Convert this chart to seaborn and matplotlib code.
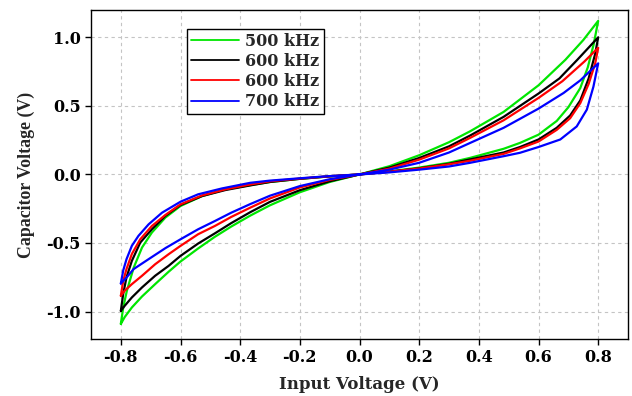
import matplotlib
matplotlib.use("Agg")
import matplotlib.pyplot as plt
import numpy as np
import pandas as pd
import seaborn as sns

# ---- loop data: forward branch (-0.8 -> 0.8) followed by return branch (0.8 -> -0.8) ----
labels = ["500 kHz", "600 kHz", "600 kHz", "700 kHz"]
colors = ["#00e600", "#000000", "#ff0000", "#0000ff"]

green_x = [-0.80, -0.792, -0.78, -0.757, -0.729, -0.696, -0.651, -0.60, -0.528, -0.45, -0.366,
           -0.30, -0.20, -0.10, 0.00, 0.10, 0.20, 0.30, 0.371, 0.483, 0.538, 0.60, 0.661, 0.70,
           0.74, 0.765, 0.785, 0.80,
           0.75, 0.69, 0.60, 0.483, 0.371, 0.30, 0.20, 0.10, 0.00, -0.10, -0.20, -0.30, -0.366,
           -0.43, -0.485, -0.541, -0.60, -0.64, -0.685, -0.729, -0.763, -0.787, -0.80]
green_y = [-1.09, -0.97, -0.85, -0.68, -0.533, -0.424, -0.315, -0.23, -0.158, -0.109, -0.078,
           -0.055, -0.032, -0.014, 0.00, 0.022, 0.05, 0.085, 0.121, 0.187, 0.23, 0.29, 0.39, 0.49,
           0.63, 0.78, 0.95, 1.12,
           0.98, 0.836, 0.65, 0.456, 0.315, 0.235, 0.14, 0.06, 0.00, -0.055, -0.13, -0.225, -0.30,
           -0.38, -0.455, -0.54, -0.635, -0.71, -0.80, -0.89, -0.97, -1.04, -1.09]

black_x = [-0.80, -0.792, -0.781, -0.763, -0.735, -0.696, -0.651, -0.60, -0.528, -0.45, -0.366,
           -0.30, -0.20, -0.10, 0.00, 0.10, 0.20, 0.30, 0.371, 0.483, 0.538, 0.60, 0.661, 0.706,
           0.74, 0.768, 0.79, 0.80,
           0.73, 0.67, 0.60, 0.483, 0.371, 0.30, 0.20, 0.10, 0.00, -0.10, -0.20, -0.30, -0.366,
           -0.43, -0.485, -0.541, -0.60, -0.64, -0.685, -0.729, -0.763, -0.787, -0.80]
black_y = [-0.995, -0.87, -0.75, -0.63, -0.497, -0.40, -0.303, -0.223, -0.158, -0.114, -0.08,
           -0.055, -0.032, -0.014, 0.00, 0.02, 0.045, 0.078, 0.11, 0.16, 0.20, 0.255, 0.34, 0.43,
           0.54, 0.70, 0.88, 1.00,
           0.836, 0.70, 0.59, 0.42, 0.284, 0.205, 0.12, 0.05, 0.00, -0.05, -0.115, -0.20, -0.275,
           -0.355, -0.43, -0.504, -0.594, -0.667, -0.739, -0.824, -0.897, -0.958, -0.995]

red_x = [-0.80, -0.792, -0.781, -0.763, -0.735, -0.696, -0.651, -0.60, -0.528, -0.45, -0.366,
         -0.30, -0.20, -0.10, 0.00, 0.10, 0.20, 0.30, 0.371, 0.483, 0.538, 0.60, 0.661, 0.706,
         0.74, 0.768, 0.79, 0.80,
         0.754, 0.68, 0.60, 0.483, 0.371, 0.30, 0.20, 0.10, 0.00, -0.10, -0.20, -0.30, -0.366,
         -0.43, -0.485, -0.541, -0.60, -0.64, -0.685, -0.729, -0.763, -0.787, -0.80]
red_y = [-0.885, -0.776, -0.69, -0.58, -0.473, -0.376, -0.296, -0.218, -0.153, -0.109, -0.073,
         -0.05, -0.03, -0.013, 0.00, 0.02, 0.043, 0.074, 0.10, 0.15, 0.19, 0.24, 0.325, 0.41,
         0.52, 0.66, 0.81, 0.924,
         0.824, 0.68, 0.558, 0.395, 0.267, 0.19, 0.108, 0.042, 0.00, -0.04, -0.095, -0.175, -0.242,
         -0.31, -0.376, -0.436, -0.521, -0.582, -0.655, -0.739, -0.80, -0.848, -0.885]

blue_x = [-0.80, -0.792, -0.781, -0.763, -0.741, -0.707, -0.662, -0.60, -0.541, -0.461, -0.366,
          -0.30, -0.20, -0.10, 0.00, 0.10, 0.20, 0.30, 0.371, 0.483, 0.538, 0.60, 0.673, 0.728,
          0.762, 0.784, 0.80,
          0.74, 0.684, 0.60, 0.483, 0.371, 0.30, 0.20, 0.10, 0.00, -0.10, -0.20, -0.30, -0.366,
          -0.43, -0.485, -0.541, -0.60, -0.651, -0.707, -0.757, -0.781, -0.80]
blue_y = [-0.795, -0.70, -0.618, -0.52, -0.448, -0.364, -0.279, -0.199, -0.145, -0.102, -0.061,
          -0.045, -0.028, -0.012, 0.00, 0.015, 0.035, 0.058, 0.085, 0.133, 0.158, 0.20, 0.255, 0.35,
          0.473, 0.64, 0.81,
          0.686, 0.594, 0.48, 0.34, 0.23, 0.16, 0.085, 0.035, 0.00, -0.035, -0.085, -0.155, -0.216,
          -0.279, -0.34, -0.40, -0.473, -0.538, -0.618, -0.69, -0.752, -0.795]

x_ticks = [-0.8, -0.6, -0.4, -0.2, 0.0, 0.2, 0.4, 0.6, 0.8]
y_ticks = [-1.0, -0.5, 0.0, 0.5, 1.0]

# ---- styling ----
sns.set_style("ticks")
plt.rcParams["font.family"] = ["DejaVu Serif"]
plt.rcParams["font.weight"] = "bold"
plt.rcParams["axes.unicode_minus"] = False

fig = plt.figure(figsize=(6.32, 3.96), dpi=100)
ax = fig.add_axes([0.144, 0.144, 0.8497, 0.831])

series = [(green_x, green_y), (black_x, black_y), (red_x, red_y), (blue_x, blue_y)]
for (xs, ys), lab, col in zip(series, labels, colors):
    df = pd.DataFrame({"Input Voltage": xs, "Capacitor Voltage": ys})
    sns.lineplot(data=df, x="Input Voltage", y="Capacitor Voltage", sort=False,
                 estimator=None, color=col, linewidth=1.6, label=lab, ax=ax)

ax.set_xlim(-0.9, 0.9)
ax.set_ylim(-1.2, 1.2)
ax.set_xticks(x_ticks)
ax.set_yticks(y_ticks)
ax.set_xticklabels([f"{v:.1f}" for v in x_ticks])
ax.set_yticklabels([f"{v:.1f}" for v in y_ticks])

ax.grid(True, color="#c4c4c4", linestyle=(0, (3, 3)), linewidth=0.8)
ax.set_axisbelow(True)
for s in ax.spines.values():
    s.set_visible(True)
    s.set_color("black")
    s.set_linewidth(1.0)

ax.tick_params(direction="out", length=4.5, width=1.0, pad=3, labelsize=11.5,
               top=False, right=False, colors="black")

ax.set_xlabel("Input Voltage (V)", fontsize=12, fontweight="bold", labelpad=7)
ax.set_ylabel("Capacitor Voltage (V)", fontsize=12.8, fontweight="bold",
              fontfamily="Liberation Serif")
ax.yaxis.set_label_coords(-0.104, 0.5)

leg = ax.legend(loc="upper left", bbox_to_anchor=(0.179, 0.943), borderaxespad=0,
                frameon=True, fancybox=False, edgecolor="black", framealpha=1,
                prop={"family": "DejaVu Serif", "weight": "bold", "size": 11.5},
                handlelength=3.0, handletextpad=0.4, labelspacing=0.2, borderpad=0.25)
leg.get_frame().set_linewidth(1.0)
for h in leg.get_lines():
    h.set_linewidth(1.3)

fig.savefig("out.png", dpi=100)
